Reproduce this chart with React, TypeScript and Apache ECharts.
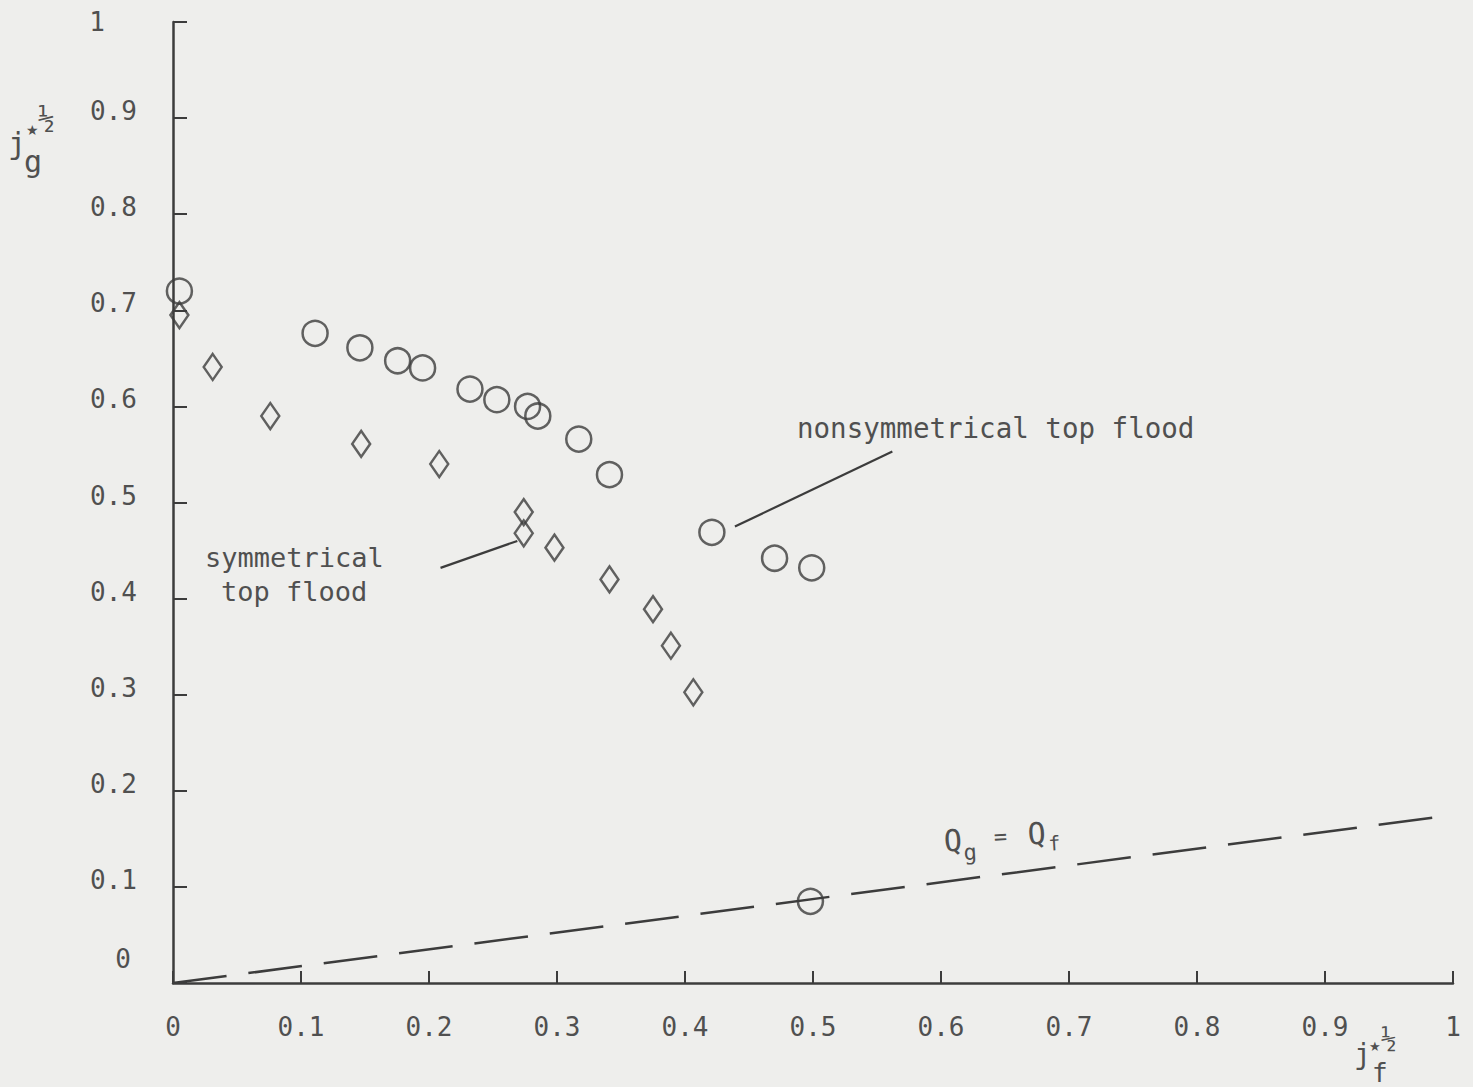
import React, { useEffect, useRef } from "react";
import * as echarts from "echarts";

// ---- data ----
const xTickLabels = ["0", "0.1", "0.2", "0.3", "0.4", "0.5", "0.6", "0.7", "0.8", "0.9", "1"];
const yTickLabels = ["0", "0.1", "0.2", "0.3", "0.4", "0.5", "0.6", "0.7", "0.8", "0.9", "1"];

// nonsymmetrical top flood (circles)
const circleX = [0.005, 0.111, 0.146, 0.1755, 0.195, 0.232, 0.253, 0.277, 0.285, 0.317, 0.341, 0.421, 0.47, 0.499, 0.498];
const circleY = [0.72, 0.676, 0.661, 0.6475, 0.64, 0.618, 0.607, 0.6, 0.59, 0.566, 0.529, 0.469, 0.442, 0.432, 0.085];

// symmetrical top flood (diamonds)
const diamondX = [0.005, 0.031, 0.076, 0.147, 0.208, 0.274, 0.274, 0.298, 0.341, 0.375, 0.389, 0.4065];
const diamondY = [0.695, 0.641, 0.59, 0.561, 0.54, 0.49, 0.468, 0.453, 0.42, 0.389, 0.351, 0.3025];

// Qg = Qf line
const equalFlowX = [0, 0.99];
const equalFlowY = [0, 0.173];

// leader lines for the annotations
const nonsymLeaderX = [0.439, 0.562];
const nonsymLeaderY = [0.475, 0.553];
const symLeaderX = [0.209, 0.269];
const symLeaderY = [0.432, 0.46];

const INK = "#3c3c3c";
const TEXT = "#505050";
const MONO = "'DejaVu Sans Mono', 'Liberation Mono', monospace";

const zip = (xs: number[], ys: number[]) => xs.map((x, i) => [x, ys[i]]);

export default function App() {
  const ref = useRef<HTMLDivElement>(null);

  useEffect(() => {
    if (!ref.current) return;
    const chart = echarts.init(ref.current, undefined, { renderer: "svg" });

    const yLabelStyle = (v: number) => {
      const i = Math.round(v * 10);
      const t = yTickLabels[i];
      if (i === 0) return `{z|${t}}`;
      if (i === 10) return `{t|${t}}`;
      return `{a|${t}}`;
    };

    const option: any = {
      animation: false,
      backgroundColor: "#eeeeec",
      grid: { left: 173, right: 20, top: 22, bottom: 104, containLabel: false },
      xAxis: {
        type: "value",
        min: 0,
        max: 1,
        interval: 0.1,
        splitLine: { show: false },
        axisLine: { show: true, onZero: false, lineStyle: { color: INK, width: 2.5 } },
        axisTick: { show: true, inside: true, length: 12, lineStyle: { color: INK, width: 2 } },
        axisLabel: {
          color: TEXT,
          fontSize: 26,
          fontFamily: MONO,
          margin: 31,
          formatter: (v: number) => xTickLabels[Math.round(v * 10)],
        },
      },
      yAxis: {
        type: "value",
        min: 0,
        max: 1,
        interval: 0.1,
        splitLine: { show: false },
        axisLine: { show: true, onZero: false, lineStyle: { color: INK, width: 2.5 } },
        axisTick: { show: true, inside: true, length: 14, lineStyle: { color: INK, width: 2 } },
        axisLabel: {
          color: TEXT,
          fontSize: 26,
          fontFamily: MONO,
          margin: 36,
          formatter: yLabelStyle,
          rich: {
            a: { color: TEXT, fontSize: 26, fontFamily: MONO, padding: [0, 0, 14, 0] },
            z: { color: TEXT, fontSize: 26, fontFamily: MONO, padding: [0, 6, 48, 0] },
            t: { color: TEXT, fontSize: 26, fontFamily: MONO, padding: [0, 32, 0, 0] },
          },
        },
      },
      series: [
        {
          type: "line",
          data: zip(equalFlowX, equalFlowY),
          showSymbol: false,
          symbol: "none",
          lineStyle: { color: INK, width: 2.5, type: [54, 22] },
          z: 1,
        },
        {
          type: "line",
          data: zip(nonsymLeaderX, nonsymLeaderY),
          symbol: "none",
          lineStyle: { color: INK, width: 2.2 },
          z: 1,
        },
        {
          type: "line",
          data: zip(symLeaderX, symLeaderY),
          symbol: "none",
          lineStyle: { color: INK, width: 2.2 },
          z: 1,
        },
        {
          type: "scatter",
          name: "nonsymmetrical top flood",
          data: zip(circleX, circleY),
          symbol: "circle",
          symbolSize: 25,
          itemStyle: { color: "rgba(0,0,0,0)", borderColor: INK, borderWidth: 2.5 },
          z: 3,
        },
        {
          type: "scatter",
          name: "symmetrical top flood",
          data: zip(diamondX, diamondY),
          symbol: "diamond",
          symbolSize: [18, 26],
          itemStyle: { color: "rgba(0,0,0,0)", borderColor: INK, borderWidth: 2.5 },
          z: 3,
        },
      ],
      graphic: [
        // annotations
        {
          type: "text",
          x: 797,
          y: 414,
          style: { text: "nonsymmetrical top flood", fill: TEXT, fontSize: 27.5, fontFamily: MONO },
        },
        {
          type: "text",
          x: 205,
          y: 544,
          style: { text: "symmetrical", fill: TEXT, fontSize: 27, fontFamily: MONO },
        },
        {
          type: "text",
          x: 221,
          y: 578,
          style: { text: "top flood", fill: TEXT, fontSize: 27, fontFamily: MONO },
        },
        // Qg = Qf label
        {
          type: "group",
          x: 943,
          y: 826,
          rotation: 0.06,
          children: [
            { type: "text", x: 0, y: 0, style: { text: "Q", fill: TEXT, fontSize: 30, fontFamily: MONO } },
            { type: "text", x: 19, y: 17, style: { text: "g", fill: TEXT, fontSize: 22, fontFamily: MONO } },
            { type: "text", x: 50, y: 3, style: { text: "=", fill: TEXT, fontSize: 22, fontFamily: MONO } },
            { type: "text", x: 84, y: -2, style: { text: "Q", fill: TEXT, fontSize: 30, fontFamily: MONO } },
            { type: "text", x: 104, y: 14, style: { text: "f", fill: TEXT, fontSize: 20, fontFamily: MONO } },
          ],
        },
        // y axis name j*^(1/2)_g
        { type: "text", x: 8, y: 128, style: { text: "j", fill: TEXT, fontSize: 30, fontFamily: MONO } },
        { type: "text", x: 26, y: 123, style: { text: "\u2605", fill: TEXT, fontSize: 14, fontFamily: "DejaVu Sans" } },
        { type: "text", x: 38, y: 104, style: { text: "\u00bd", fill: TEXT, fontSize: 28, fontFamily: MONO } },
        { type: "text", x: 24, y: 146, style: { text: "g", fill: TEXT, fontSize: 30, fontFamily: MONO } },
        // x axis name j*^(1/2)_f
        { type: "text", x: 1354, y: 1040, style: { text: "j", fill: TEXT, fontSize: 28, fontFamily: MONO } },
        { type: "text", x: 1369, y: 1040, style: { text: "\u2605", fill: TEXT, fontSize: 13, fontFamily: "DejaVu Sans" } },
        { type: "text", x: 1381, y: 1026, style: { text: "\u00bd", fill: TEXT, fontSize: 26, fontFamily: MONO } },
        { type: "text", x: 1372, y: 1060, style: { text: "f", fill: TEXT, fontSize: 26, fontFamily: MONO } },
      ],
    };

    chart.setOption(option);
    return () => chart.dispose();
  }, []);

  return (
    <div
      ref={ref}
      style={{ position: "absolute", left: 0, top: 0, width: 1473, height: 1087, background: "#eeeeec" }}
    />
  );
}
